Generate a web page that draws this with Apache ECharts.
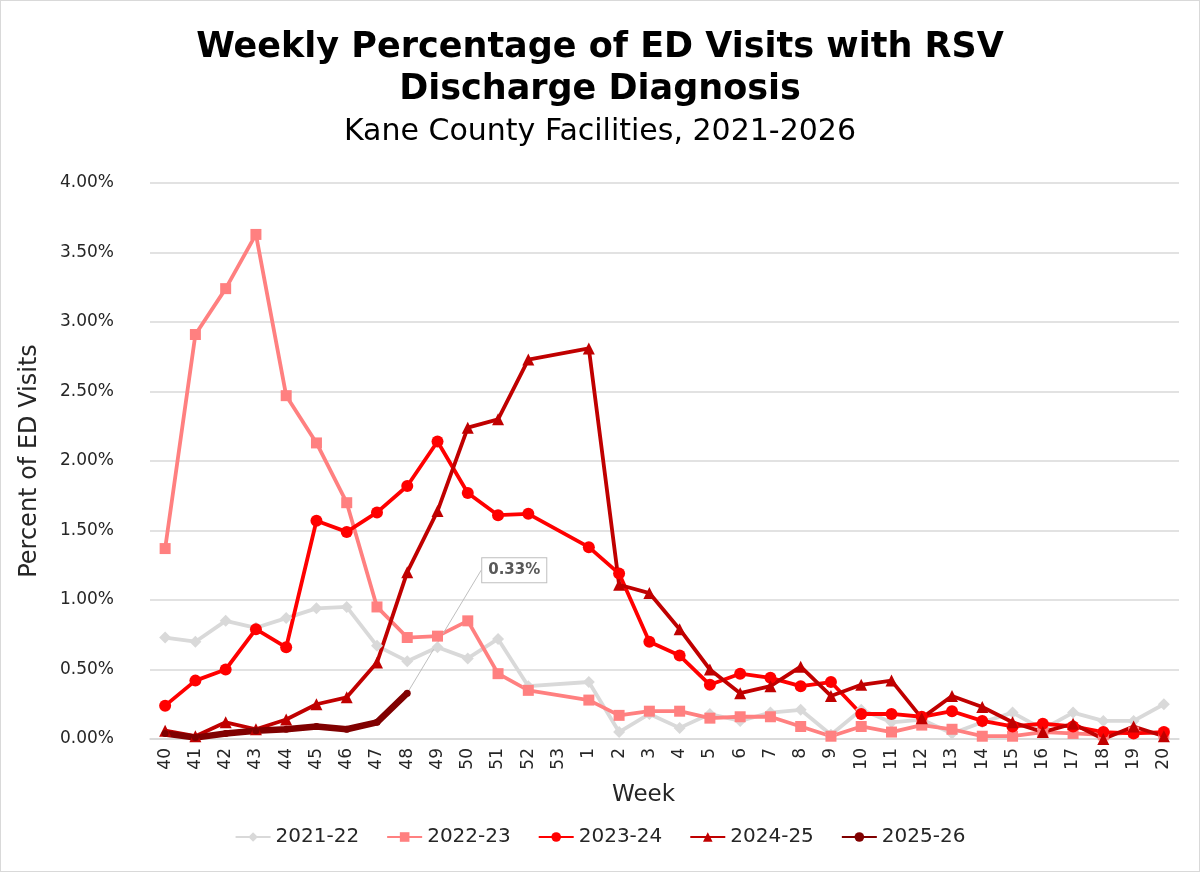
<!doctype html>
<html>
<head>
<meta charset="utf-8">
<title>RSV ED Visits - Kane County</title>
<style>
  html, body { margin: 0; padding: 0; background: #fff; }
  #main { width: 1200px; height: 872px; box-sizing: border-box; border: 1px solid #d9d9d9; }
</style>
</head>
<body>
<div id="main"></div>
<script src="https://cdn.jsdelivr.net/npm/echarts@6/dist/echarts.min.js"></script>
<script>
// week 53 has no data in any season, lines are joined across it
var weeks = ['40','41','42','43','44','45','46','47','48','49','50','51','52','53',
    '1','2','3','4','5','6','7','8','9','10','11','12','13','14','15','16','17','18','19','20'];

var s2122 = [0.73,0.70,0.85,0.80,0.87,0.94,0.95,0.67,0.56,0.66,0.58,0.72,0.38,null,
    0.41,0.05,0.18,0.08,0.18,0.13,0.19,0.21,0.03,0.21,0.12,0.14,0.04,0.12,0.19,0.07,0.19,0.13,0.13,0.25];
var s2223 = [1.37,2.91,3.24,3.63,2.47,2.13,1.70,0.95,0.73,0.74,0.85,0.47,0.35,null,
    0.28,0.17,0.20,0.20,0.15,0.16,0.16,0.09,0.02,0.09,0.05,0.10,0.07,0.02,0.02,0.05,0.04,0.03,0.05,0.04];
var s2324 = [0.24,0.42,0.50,0.79,0.66,1.57,1.49,1.63,1.82,2.14,1.77,1.61,1.62,null,
    1.38,1.19,0.70,0.60,0.39,0.47,0.44,0.38,0.41,0.18,0.18,0.16,0.20,0.13,0.09,0.11,0.09,0.05,0.04,0.05];
var s2425 = [0.06,0.02,0.12,0.07,0.14,0.25,0.30,0.55,1.20,1.64,2.24,2.30,2.73,null,
    2.81,1.11,1.05,0.79,0.50,0.33,0.38,0.52,0.31,0.39,0.42,0.15,0.31,0.23,0.12,0.05,0.11,0.00,0.09,0.02];
var s2526 = [0.04,0.01,0.04,0.06,0.07,0.09,0.07,0.12,0.33];

var font = 'DejaVu Sans';

function mk(name, data, color, symbol, size, width) {
    return {
        name: name,
        type: 'line',
        data: data,
        connectNulls: true,
        symbol: symbol,
        symbolSize: size,
        lineStyle: { color: color, width: width },
        itemStyle: { color: color },
        emphasis: { disabled: true }
    };
}

var series = [
    mk('2021-22', s2122, '#d9d9d9', 'diamond', 12, 3.8),
    mk('2022-23', s2223, '#ff8080', 'rect', 11, 3.8),
    mk('2023-24', s2324, '#ff0000', 'circle', 12, 3.8),
    mk('2024-25', s2425, '#c00000', 'triangle', 12, 3.8),
    mk('2025-26', s2526, '#800000', 'circle', 7, 6.5)
];

// callout on the latest point only
var last = s2526.length - 1;
series[4].label = {
    show: true,
    position: 'inside',
    formatter: function (p) { return p.dataIndex === last ? p.value.toFixed(2) + '%' : ''; },
    fontFamily: font,
    fontWeight: 'bold',
    fontSize: 15,
    color: '#595959',
    backgroundColor: '#fff',
    borderColor: '#bfbfbf',
    borderWidth: 1,
    padding: [5, 6, 4, 6]
};
series[4].data = s2526.map(function (v, i) {
    return i === last ? { value: v } : { value: v, label: { show: false } };
});
series[4].labelLayout = { dx: 107, dy: -123 };
series[4].labelLine = { show: true, lineStyle: { color: '#bfbfbf', width: 1 } };

var chart = echarts.init(document.getElementById('main'));

chart.setOption({
    backgroundColor: '#fff',
    animation: false,
    title: [{
        text: 'Weekly Percentage of ED Visits with RSV\nDischarge Diagnosis',
        left: 'center',
        top: 21,
        textStyle: { fontFamily: font, fontWeight: 'bold', fontSize: 35, lineHeight: 42, color: '#000' }
    }, {
        text: 'Kane County Facilities, 2021-2026',
        left: 'center',
        top: 111,
        textStyle: { fontFamily: font, fontWeight: 'normal', fontSize: 30, lineHeight: 30, color: '#000' }
    }],
    legend: {
        bottom: 19,
        left: 'center',
        itemWidth: 35,
        itemHeight: 12,
        itemGap: 27,
        textStyle: { fontFamily: font, fontSize: 20, color: '#262626' },
        data: ['2021-22', '2022-23', '2023-24', '2024-25', '2025-26']
    },
    grid: { left: 149, right: 20, top: 182, bottom: 132 },
    xAxis: {
        type: 'category',
        data: weeks,
        name: 'Week',
        nameLocation: 'middle',
        nameGap: 45,
        nameTextStyle: { fontFamily: font, fontSize: 23, color: '#262626', padding: [0, 42, 0, 0] },
        axisLine: { lineStyle: { color: '#d9d9d9', width: 1.5 } },
        axisTick: { show: false },
        axisLabel: {
            interval: 0,
            rotate: 90,
            fontFamily: font,
            fontSize: 17,
            color: '#262626',
            margin: 9
        }
    },
    yAxis: {
        type: 'value',
        min: 0,
        max: 4,
        interval: 0.5,
        name: 'Percent of ED Visits',
        nameLocation: 'middle',
        nameGap: 108,
        nameTextStyle: { fontFamily: font, fontSize: 24, color: '#262626' },
        axisLine: { show: false },
        axisTick: { show: false },
        splitLine: { lineStyle: { color: '#d9d9d9', width: 1.5 } },
        axisLabel: {
            fontFamily: font,
            fontSize: 17,
            color: '#262626',
            margin: 36,
            formatter: function (v) { return v.toFixed(2) + '%'; }
        }
    },
    series: series
});
</script>
</body>
</html>
